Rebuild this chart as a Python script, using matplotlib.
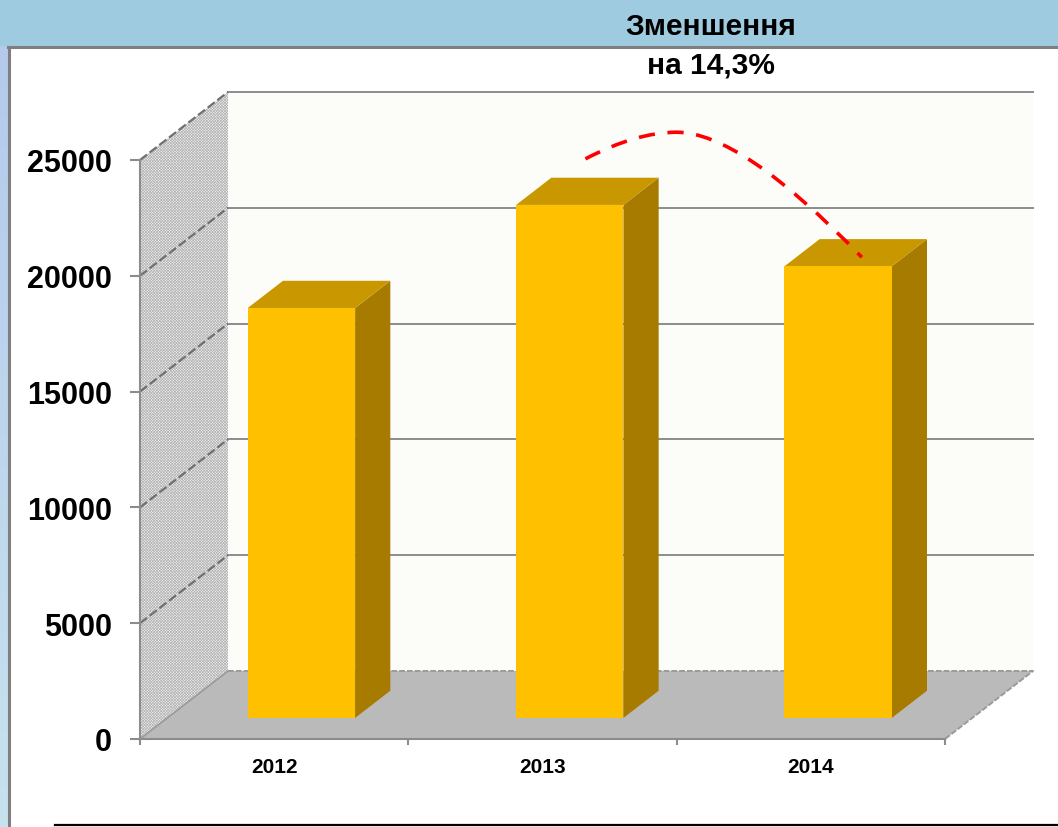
import numpy as np
import matplotlib
matplotlib.use('Agg')
import matplotlib.pyplot as plt
from matplotlib.patches import Polygon, Rectangle, PathPatch
from matplotlib.path import Path
from matplotlib.lines import Line2D

plt.rcParams['font.family'] = ['Liberation Sans', 'DejaVu Sans']
plt.rcParams['hatch.linewidth'] = 0.5

# data
years = ['2012', '2013', '2014']
values = [17700, 22150, 19500]
y_ticks = [0, 5000, 10000, 15000, 20000, 25000]
title_lines = ['Зменшення', 'на 14,3%']

# dashed arc (annotation), data coords: start, ctrl, peak, ctrl, end
arc_pts = [(1.16, 25050), (1.35, 26200), (1.50, 26200), (1.74, 26200), (2.19, 20800)]

# fake 3d: one unit of depth moves this much in x and in value
DX = 0.328
DV = 2936
bar_half = 0.2
d_front = 0.31
d_back = 0.71

front_col = '#FFC000'
top_col = '#C99800'
side_col = '#A67B00'
grid_col = '#8c8c8c'


def proj(x, v, d):
    return (x + d * DX, v + d * DV)


fig = plt.figure(figsize=(10.58, 8.28), dpi=100)
fig.patch.set_facecolor('white')

# frame around the slide
H = 828.0
W = 1058.0
fig.patches.append(Rectangle((0, 1 - 47 / H), 1, 47 / H, transform=fig.transFigure,
                             facecolor='#9fcbe0', edgecolor='none', zorder=0))
grad = np.linspace(0, 1, 100).reshape(-1, 1)
gax = fig.add_axes([0, 0, 8 / W, 1 - 47 / H])
gax.imshow(grad, aspect='auto', cmap=matplotlib.colors.LinearSegmentedColormap.from_list(
    'strip', ['#b5caeb', '#c6e2ee']), extent=[0, 1, 0, 1])
gax.axis('off')
fig.add_artist(Line2D([8.5 / W, 8.5 / W], [0, 1 - 48 / H], transform=fig.transFigure,
                      color='#7f7f7f', lw=2.2))
fig.add_artist(Line2D([8 / W, 1], [1 - 48 / H, 1 - 48 / H], transform=fig.transFigure,
                      color='#7f7f7f', lw=2.2))
fig.add_artist(Line2D([55 / W, 1], [1 - 826 / H, 1 - 826 / H], transform=fig.transFigure,
                      color='black', lw=1.6))

ax = fig.add_axes([140 / W, (H - 740) / H, 805 / W, 579 / H])
ax.patch.set_visible(False)
n = len(years)
x0, x1 = -0.5, n - 0.5
ax.set_xlim(x0, x1)
ax.set_ylim(0, 25000)
vmax = y_ticks[-1]

# walls and floor
left_wall = [proj(x0, 0, 0), proj(x0, 0, 1), proj(x0, vmax, 1), proj(x0, vmax, 0)]
ax.add_patch(Polygon(left_wall, closed=True, facecolor='#f2f2f2', edgecolor='#b4b4b4',
                     hatch='x' * 12, lw=0, clip_on=False, zorder=1))
back_wall = [proj(x0, 0, 1), proj(x1, 0, 1), proj(x1, vmax, 1), proj(x0, vmax, 1)]
ax.add_patch(Polygon(back_wall, closed=True, facecolor='#fcfcf9', edgecolor='none',
                     clip_on=False, zorder=1))
floor = [proj(x0, 0, 0), proj(x1, 0, 0), proj(x1, 0, 1), proj(x0, 0, 1)]
ax.add_patch(Polygon(floor, closed=True, facecolor='#bababa', edgecolor='none',
                     clip_on=False, zorder=1))

# floor edges
fx, fy = zip(proj(x0, 0, 1), proj(x1, 0, 1), proj(x1, 0, 0))
ax.plot(fx, fy, color='#9a9a9a', lw=1.4, ls=(0, (3, 1)), clip_on=False, zorder=1.5)
fx, fy = zip(proj(x0, 0, 0), proj(x0, 0, 1))
ax.plot(fx, fy, color='#9a9a9a', lw=1.2, clip_on=False, zorder=1.5)

# gridlines on the walls
for v in y_ticks[1:]:
    gx, gy = zip(proj(x0, v, 1), proj(x1, v, 1))
    ax.plot(gx, gy, color=grid_col, lw=1.4, clip_on=False, zorder=1.5)
    gx, gy = zip(proj(x0, v, 0), proj(x0, v, 1))
    ax.plot(gx, gy, color='#707070', lw=1.6, ls=(0, (4, 1.5)), clip_on=False, zorder=1.5)

# bars
for i, val in enumerate(values):
    xl, xr = i - bar_half, i + bar_half
    side = [proj(xr, 0, d_front), proj(xr, 0, d_back), proj(xr, val, d_back), proj(xr, val, d_front)]
    top = [proj(xl, val, d_front), proj(xr, val, d_front), proj(xr, val, d_back), proj(xl, val, d_back)]
    front = [proj(xl, 0, d_front), proj(xr, 0, d_front), proj(xr, val, d_front), proj(xl, val, d_front)]
    ax.add_patch(Polygon(side, closed=True, facecolor=side_col, edgecolor='none', clip_on=False, zorder=3))
    ax.add_patch(Polygon(top, closed=True, facecolor=top_col, edgecolor='none', clip_on=False, zorder=3))
    ax.add_patch(Polygon(front, closed=True, facecolor=front_col, edgecolor='none', clip_on=False, zorder=3))

# dashed arc over 2013 -> 2014
arc = Path(arc_pts, [Path.MOVETO, Path.CURVE3, Path.CURVE3, Path.CURVE3, Path.CURVE3])
ax.add_patch(PathPatch(arc, facecolor='none', edgecolor='#ff0000', lw=2.6,
                       ls=(0, (4.5, 3.5)), clip_on=False, zorder=4))

# axes
for s in ['top', 'right']:
    ax.spines[s].set_visible(False)
for s in ['left', 'bottom']:
    ax.spines[s].set_color(grid_col)
    ax.spines[s].set_linewidth(1.5)

ax.set_yticks(y_ticks)
ax.set_yticklabels([str(t) for t in y_ticks], fontsize=22, fontweight='bold')
ax.tick_params(axis='y', direction='out', length=7.2, width=1.5, color=grid_col, pad=13)

ax.set_xticks(np.arange(x0, x1 + 0.01, 1.0))
ax.set_xticklabels([])
ax.tick_params(axis='x', which='major', direction='out', length=4.5, width=1.5, color=grid_col)
ax.set_xticks(range(n), minor=True)
ax.set_xticklabels(years, minor=True, fontsize=15, fontweight='bold')
ax.tick_params(axis='x', which='minor', length=0, pad=13)

fig.text(711 / W, 1 - 35 / H, title_lines[0], ha='center', va='baseline',
         fontsize=21.5, fontweight='bold')
fig.text(711 / W, 1 - 74 / H, title_lines[1], ha='center', va='baseline',
         fontsize=21.5, fontweight='bold')

fig.savefig('out.png', dpi=100)
